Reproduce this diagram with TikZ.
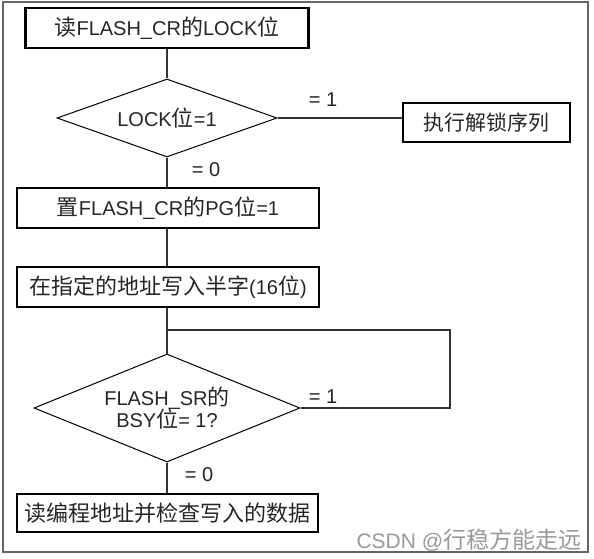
\documentclass[tikz,border=0pt]{standalone}
\usepackage{fontspec}
\setmainfont{Liberation Sans}
\newfontfamily\cjk{Noto Sans CJK SC}[Scale=1.1]
\newcommand{\zh}[1]{{\cjk #1}}
\usetikzlibrary{shapes.geometric}
\begin{document}
\begin{tikzpicture}[x=1pt,y=-1pt,
  font=\fontsize{20}{24}\selectfont,
  stepbox/.style={draw=black, line width=2.4pt, rectangle, inner sep=0pt, text=black!85},
  decide/.style={draw=black, line width=1pt, diamond, inner sep=0pt, text=black!85, align=center},
  conn/.style={draw=black!80, line width=1.1pt},
  lbl/.style={inner sep=0pt, text=black!85}]
\useasboundingbox (0,0) rectangle (594,559);
\draw[draw=black!60, line width=1.3pt] (3,2) rectangle (588,552);

\node[stepbox, minimum width=283pt, minimum height=40pt] (b1) at (167,28) {\zh{读}FLASH\_CR\zh{的}LOCK\zh{位}};
\node[decide, minimum width=220pt, minimum height=78pt, shape aspect=2.82] (d1) at (167,118) {LOCK\zh{位}=1};
\node[stepbox, minimum width=167pt, minimum height=39pt] (un) at (486.5,122.5) {\fontsize{19}{22}\selectfont\zh{执行解锁序列}};
\node[stepbox, minimum width=302pt, minimum height=40pt] (b3) at (168,208) {\zh{置}FLASH\_CR\zh{的}PG\zh{位}=1};
\node[stepbox, minimum width=302pt, minimum height=40pt] (b4) at (168,287) {\zh{在指定的地址写入半字}(16\zh{位})};
\node[decide, minimum width=266pt, minimum height=108pt, shape aspect=2.46] (d2) at (167,408) {FLASH\_SR\zh{的}\\[-2pt]BSY\zh{位}= 1?};
\node[stepbox, minimum width=301pt, minimum height=38pt] (b5) at (167.5,513) {\zh{读编程地址并检查写入的数据}};

\coordinate (j) at (167,330);
\coordinate (r) at (450,330);

\draw[conn] (b1.south) -- (d1.north);
\draw[conn] (d1.east) -- (d1.east -| un.west);
\draw[conn] (d1.south) -- (d1.south |- b3.north);
\draw[conn] (b3.south -| d1.south) -- (b4.north -| d1.south);
\draw[conn] (b4.south -| d1.south) -- (d2.north);
\draw[conn] (d2.east) -- (d2.east -| r) -- (r) -- (j);
\draw[conn] (d2.south) -- (d2.south |- b5.north);

\node[lbl] (l1) at (323,100) {= 1};
\node[lbl] (l0) at (206,170) {= 0};
\node[lbl] (l2) at (323,397) {= 1};
\node[lbl] (l3) at (199,475) {= 0};

\node[inner sep=0pt, text=black!40, anchor=east, font=\fontsize{21}{24}\selectfont] (wm) at (582,540) {CSDN @\zh{行稳方能走远}};
\end{tikzpicture}
\end{document}
